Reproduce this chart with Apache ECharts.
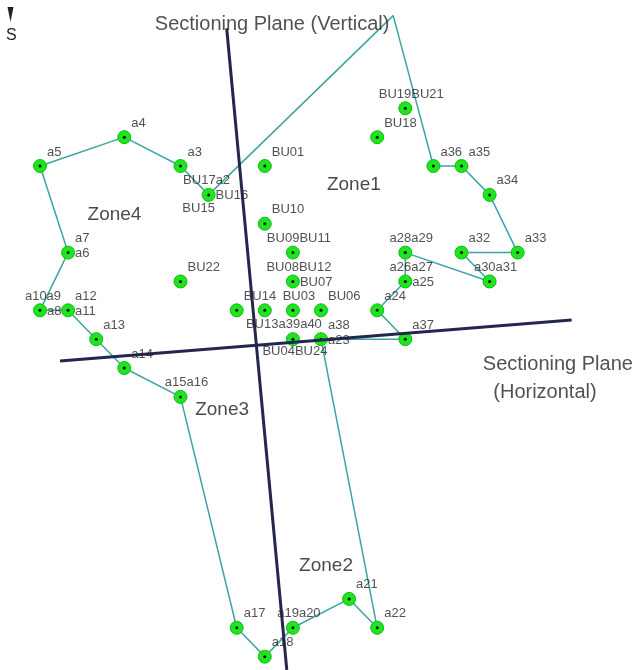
<!DOCTYPE html>
<html>
<head>
<meta charset="UTF-8">
<title>Sectioning Planes</title>
<script src="https://cdn.jsdelivr.net/npm/echarts@6/dist/echarts.min.js"></script>
<style>
  html, body { margin: 0; padding: 0; background: #fff; }
  #container { width: 634px; height: 670px; }
</style>
</head>
<body>
<div id="container"></div>
<script>
// survey points (grid column / row, row counts downward = south)
var pointNames = ['a1','a2','a3','a4','a5','a6','a9','a11','a13','a14','a15','a17','a18','a19','a21','a22','a23','a24','a26','a28','a30','a32','a33','a34','a35','a36','a37','a40','BU01','BU03','BU06','BU08','BU09','BU10','BU13','BU14','BU18','BU19','BU22'];
var pointCol = [12.57,6,5,3,0,1,0,1,2,3,5,7,8,9,11,12,10,12,13,13,16,15,17,16,15,14,13,9,8,9,10,9,9,8,8,7,12,13,5];
var pointRow = [-3.21,3,2,1,2,5,7,7,8,9,10,18,19,18,17,18,8,7,6,5,6,5,5,3,2,2,8,8,2,7,7,6,5,4,7,7,1,0,6];
var unmarked = ['a1'];

// zone boundary, in drawing order
var boundary = ['a2','a1','a36','a35','a34','a33','a32','a30','a28','a26','a24','a37','a23','a22','a21','a19','a18','a17','a15','a14','a13','a11','a9','a6','a5','a4','a3','a2'];

// point labels
var labelText = ['a5','a4','a3','BU17a2','BU16','BU15','BU01','BU10','BU09BU11','BU08BU12','BU07','BU22','BU14','BU03','BU06','BU13a39a40','a38','a23','BU04BU24','BU19BU21','BU18','a36','a35','a34','a33','a32','a30a31','a28a29','a26a27','a25','a24','a37','a7','a6','a10a9','a8','a12','a11','a13','a14','a15a16','a17','a18','a19a20','a21','a22'];
var labelAt = ['a5','a4','a3','a2','a2','a2','BU01','BU10','BU09','BU08','BU08','BU22','BU14','BU03','BU06','a40','a23','a23','a40','BU19','BU18','a36','a35','a34','a33','a32','a30','a28','a26','a26','a24','a37','a6','a6','a9','a9','a11','a11','a13','a14','a15','a17','a18','a19','a21','a22'];
var labelPlace = ['tr','tr','tr','tl','r','bl','tr','tr','tc','tc','r','tr','tr','tc','tr','tw','tr','r','b','tc','tr','tr','tr','tr','tr','tr','tc','tc','tc','r','tr','tr','tr','r','tn','r','tr','r','tr','tr','tc','tr','tr','tc','tr','tr'];

// sectioning planes (end points)
var vPlaneCol = [6.644, 8.783];
var vPlaneRow = [-2.772, 19.463];
var hPlaneCol = [0.712, 18.92];
var hPlaneRow = [8.756, 7.332];

// zone and plane captions
var zoneNames = ['Zone1','Zone2','Zone3','Zone4'];
var zoneCol = [11.17, 10.18, 6.48, 2.65];
var zoneRow = [2.66, 15.86, 10.45, 3.70];
var captionText = ['Sectioning Plane (Vertical)', 'Sectioning Plane', '(Horizontal)'];
var captionCol = [8.26, 18.43, 17.97];
var captionRow = [-2.89, 8.86, 9.83];

var FONT = '"Liberation Sans", Arial, sans-serif';

var placeStyle = {
  tr: { align: 'left',   offset: [7, -14] },
  tc: { align: 'center', offset: [6, -14] },
  r:  { align: 'left',   offset: [7, 1] },
  tl: { align: 'center', offset: [-2, -14] },
  bl: { align: 'center', offset: [-10, 14] },
  tw: { align: 'center', offset: [-9, -15] },
  b:  { align: 'center', offset: [2, 12] },
  tn: { align: 'center', offset: [3, -14] }
};

function pos(name) {
  var i = pointNames.indexOf(name);
  return [pointCol[i], pointRow[i]];
}

var markerData = pointNames.filter(function (n) { return unmarked.indexOf(n) < 0; })
  .map(function (n) { return { name: n, value: pos(n) }; });

var boundaryData = boundary.map(pos);

var labelData = labelText.map(function (t, i) {
  var s = placeStyle[labelPlace[i]];
  return {
    name: t,
    value: pos(labelAt[i]),
    label: { show: true, position: 'inside', formatter: t, align: s.align, verticalAlign: 'middle', offset: s.offset }
  };
});

var zoneData = zoneNames.map(function (z, i) { return { name: z, value: [zoneCol[i], zoneRow[i]] }; });
var captionData = captionText.map(function (t, i) { return { name: t, value: [captionCol[i], captionRow[i]] }; });

var dom = document.getElementById('container');
var myChart = echarts.init(dom);
var option = {
  animation: false,
  backgroundColor: '#ffffff',
  grid: { left: 0, right: 0, top: 0, bottom: 0 },
  xAxis: { type: 'value', min: -1.4235, max: 21.139, show: false },
  yAxis: { type: 'value', min: -3.7526, max: 19.463, inverse: true, show: false },
  graphic: [
    { type: 'polygon', shape: { points: [[7.5, 7], [13.5, 7], [10.5, 22]] }, style: { fill: '#222' } },
    { type: 'text', left: 6, top: 28, style: { text: 'S', font: '16px ' + FONT, fill: '#222' } }
  ],
  series: [
    {
      type: 'line',
      data: boundaryData,
      showSymbol: false,
      lineStyle: { color: '#3aa5a5', width: 1.5 },
      silent: true,
      z: 2
    },
    {
      type: 'scatter',
      data: markerData,
      symbolSize: 13,
      itemStyle: { color: '#1ee61e', borderColor: '#12b812', borderWidth: 1, opacity: 1 },
      silent: true,
      z: 3
    },
    {
      type: 'scatter',
      data: markerData,
      symbolSize: 3,
      itemStyle: { color: '#000', opacity: 1 },
      silent: true,
      z: 4
    },
    {
      type: 'line',
      data: vPlaneCol.map(function (c, i) { return [c, vPlaneRow[i]]; }),
      showSymbol: false,
      lineStyle: { color: '#23264e', width: 3 },
      silent: true,
      z: 5
    },
    {
      type: 'line',
      data: hPlaneCol.map(function (c, i) { return [c, hPlaneRow[i]]; }),
      showSymbol: false,
      lineStyle: { color: '#23264e', width: 3 },
      silent: true,
      z: 5
    },
    {
      type: 'scatter',
      data: labelData,
      symbolSize: 1,
      itemStyle: { color: 'rgba(0,0,0,0)' },
      label: { show: true, fontFamily: FONT, fontSize: 13, color: '#262626' },
      silent: true,
      z: 6
    },
    {
      type: 'scatter',
      data: zoneData,
      symbolSize: 1,
      itemStyle: { color: 'rgba(0,0,0,0)' },
      label: { show: true, position: 'inside', formatter: '{b}', fontFamily: FONT, fontSize: 19, color: '#1a1a1a' },
      silent: true,
      z: 6
    },
    {
      type: 'scatter',
      data: captionData,
      symbolSize: 1,
      itemStyle: { color: 'rgba(0,0,0,0)' },
      label: { show: true, position: 'inside', formatter: '{b}', fontFamily: FONT, fontSize: 20, color: '#262626' },
      silent: true,
      z: 6
    }
  ]
};
myChart.setOption(option);
</script>
</body>
</html>
